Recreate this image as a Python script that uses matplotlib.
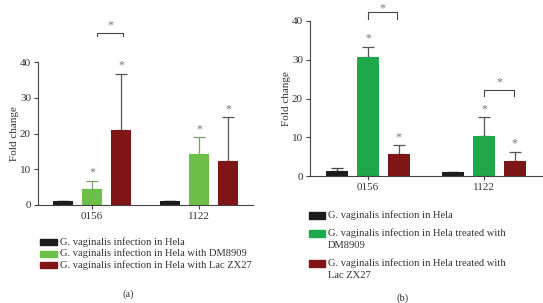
import numpy as np
import matplotlib.pyplot as plt
from matplotlib.patches import Rectangle

plt.rcParams['font.family'] = ['Liberation Serif', 'DejaVu Serif']

groups = ['0156', '1122']

# panel (a)
a_means = {'hela': [1.0, 1.0], 'dm': [4.5, 14.4], 'lac': [20.9, 12.2]}
a_top = {'hela': [1.0, 1.2], 'dm': [6.8, 19.0], 'lac': [36.7, 24.5]}
a_labels = ['G. vaginalis infection in Hela',
            'G. vaginalis infection in Hela with DM8909',
            'G. vaginalis infection in Hela with Lac ZX27']
a_colors = ['#1c1c1c', '#6cc04a', '#7e1517']

# panel (b)
b_means = {'hela': [1.2, 1.0], 'dm': [30.6, 10.2], 'lac': [5.7, 4.0]}
b_top = {'hela': [2.0, 1.0], 'dm': [33.3, 15.1], 'lac': [7.9, 6.3]}
b_labels = ['G. vaginalis infection in Hela',
            'G. vaginalis infection in Hela treated with\nDM8909',
            'G. vaginalis infection in Hela treated with\nLac ZX27']
b_colors = ['#1c1c1c', '#1fa84b', '#7e1517']

series = ['hela', 'dm', 'lac']
a_stars = {'dm': [True, True], 'lac': [True, True]}
b_stars = {'dm': [True, True], 'lac': [True, True]}

fig = plt.figure(figsize=(5.43, 3.03), dpi=100)
axa = fig.add_axes([38/543, 1-205/303, 215/543, 143/303])
axb = fig.add_axes([310/543, 1-176/303, 232/543, 155/303])

txt = '#333333'
star_c = '#777777'


def draw(ax, means, tops, colors, off, width, stars, errc):
    x = np.arange(len(groups))
    for i, s in enumerate(series):
        xs = x + (i - 1) * off
        m = np.array(means[s])
        e = np.array(tops[s]) - m
        ax.bar(xs, m, width, color=colors[i], zorder=2)
        ax.errorbar(xs, m, yerr=[np.zeros_like(e), e], fmt='none',
                    ecolor=errc[i], elinewidth=0.9, capsize=4, capthick=0.9, zorder=1)
        if s in stars:
            for j in range(len(groups)):
                if stars[s][j]:
                    ax.text(xs[j], tops[s][j] + 0.6, '*', ha='center', va='bottom',
                            fontsize=8.5, color=star_c)
    ax.set_xticks(x)
    ax.set_xticklabels(groups)
    ax.set_ylim(0, 40)
    ax.set_yticks([0, 10, 20, 30, 40])
    ax.set_ylabel('Fold change', fontsize=8, color=txt, labelpad=1)
    for sp in ['top', 'right']:
        ax.spines[sp].set_visible(False)
    for sp in ['left', 'bottom']:
        ax.spines[sp].set_color('#444444')
        ax.spines[sp].set_linewidth(0.8)
    ax.tick_params(axis='both', labelsize=8, colors='#444444', labelcolor=txt,
                   direction='out', length=3, width=0.8, pad=2)


def bracket(ax, x0, x1, y, h, gap=0.5):
    ax.plot([x0, x0, x1, x1], [y - h, y, y, y - h], color='#444444', lw=0.8,
            clip_on=False)
    ax.text((x0 + x1) / 2, y + gap, '*', ha='center', va='bottom', fontsize=8.5,
            color=star_c, clip_on=False)


draw(axa, a_means, a_top, a_colors, 0.271, 0.187, a_stars,
     ['#222222', '#7a9e66', '#555555'])
axa.set_xlim(-0.505, 1.505)
bracket(axa, 0.05, 0.29, 48.2, 0.9)

draw(axb, b_means, b_top, b_colors, 0.266, 0.189, b_stars,
     ['#444444', '#555555', '#555555'])
axb.set_xlim(-0.5, 1.5)
bracket(axb, 0.0, 0.25, 42.2, 1.6, gap=-0.6)
bracket(axb, 1.0, 1.26, 22.2, 1.6)

# legends
fs = 7.6
rows_a = [242, 253.5, 265]
for i, lab in enumerate(a_labels):
    y = 1 - rows_a[i] / 303
    fig.patches.append(Rectangle((40/543, y - 3/303), 17/543, 6/303,
                                 transform=fig.transFigure, color=a_colors[i]))
    fig.text(60/543, y, lab, fontsize=fs, va='center', ha='left', color=txt)
fig.text(128/543, 1 - 294/303, '(a)', fontsize=fs, ha='center', va='center', color=txt)

rows_b = [215, 233, 263]
for i, lab in enumerate(b_labels):
    y = 1 - rows_b[i] / 303
    fig.patches.append(Rectangle((309/543, y - 3.5/303), 16/543, 7/303,
                                 transform=fig.transFigure, color=b_colors[i]))
    fig.text(328/543, y + 5/303, lab, fontsize=fs, va='top', ha='left', color=txt,
             linespacing=1.45)
fig.text(403/543, 1 - 298/303, '(b)', fontsize=fs, ha='center', va='center', color=txt)

fig.savefig('out.png', dpi=100)
